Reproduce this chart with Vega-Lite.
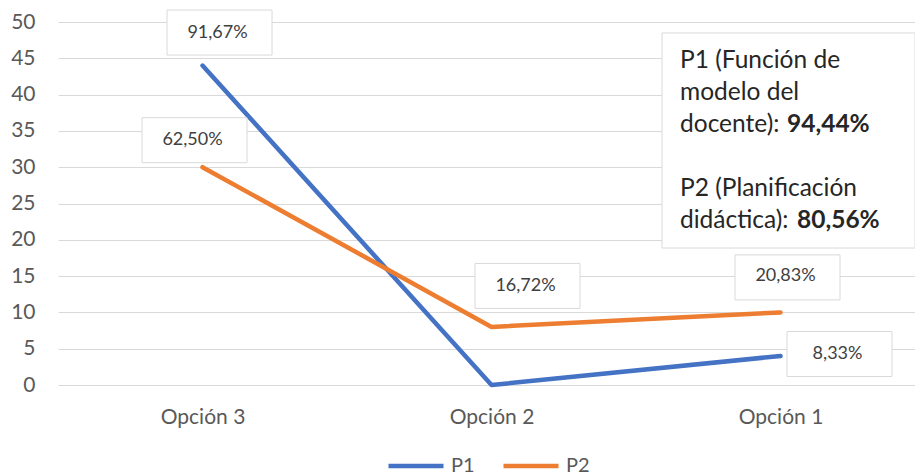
{
  "$schema": "https://vega.github.io/schema/vega-lite/v6.json",
  "width": 857,
  "height": 363,
  "autosize": {"type": "none"},
  "padding": {"left": 58, "top": 22, "right": 0, "bottom": 91},
  "background": "white",
  "config": {"view": {"stroke": null}, "font": "Lato"},
  "resolve": {"axis": {"x": "independent", "y": "independent"}},
  "data": {
    "values": [
      {"opcion": "Opción 3", "serie": "P1", "valor": 44, "etiqueta": "91,67%"},
      {"opcion": "Opción 2", "serie": "P1", "valor": 0, "etiqueta": ""},
      {"opcion": "Opción 1", "serie": "P1", "valor": 4, "etiqueta": "8,33%"},
      {"opcion": "Opción 3", "serie": "P2", "valor": 30, "etiqueta": "62,50%"},
      {"opcion": "Opción 2", "serie": "P2", "valor": 8, "etiqueta": "16,72%"},
      {"opcion": "Opción 1", "serie": "P2", "valor": 10, "etiqueta": "20,83%"}
    ]
  },
  "layer": [
    {
      "encoding": {
        "x": {
          "field": "opcion",
          "type": "ordinal",
          "sort": ["Opción 3", "Opción 2", "Opción 1"],
          "scale": {"type": "point", "padding": 0.4827, "align": 0.518},
          "axis": {"title": null, "ticks": false, "domain": false, "grid": false, "labelAngle": 0, "labelFontSize": 21, "labelColor": "#595959", "labelPadding": 21, "labelFont": "Lato"}
        },
        "y": {
          "field": "valor",
          "type": "quantitative",
          "scale": {"domain": [0, 50], "nice": false},
          "axis": {"title": null, "ticks": false, "domain": false, "values": [0, 5, 10, 15, 20, 25, 30, 35, 40, 45, 50], "gridColor": "#d9d9d9", "gridWidth": 1, "labelFontSize": 21, "labelColor": "#595959", "labelPadding": 23, "labelFont": "Lato"}
        }
      },
      "layer": [
        {
          "mark": {"type": "line", "strokeWidth": 4.5, "strokeCap": "round", "strokeJoin": "round"},
          "encoding": {
            "color": {
              "field": "serie",
              "type": "nominal",
              "scale": {"domain": ["P1", "P2"], "range": ["#4472C4", "#ED7D31"]},
              "legend": {"orient": "none", "legendX": 328, "legendY": 414, "direction": "horizontal", "title": null, "symbolType": "stroke", "symbolSize": 3025, "symbolStrokeWidth": 4.5, "labelFontSize": 20, "labelColor": "#595959", "labelFont": "Lato", "labelOffset": 5, "columnPadding": 19, "padding": 0}
            }
          }
        },
        {
          "transform": [{"filter": "datum.etiqueta == '91,67%'"}],
          "mark": {"type": "point", "shape": "M-1,-0.4286L1,-0.4286L1,0.4286L-1,0.4286Z", "size": 11025, "filled": true, "fill": "white", "stroke": "#d9d9d9", "strokeWidth": 1, "opacity": 1, "xOffset": 17, "yOffset": -33}
        },
        {
          "transform": [{"filter": "datum.etiqueta == '91,67%'"}],
          "mark": {"type": "text", "fontSize": 18, "color": "#404040", "xOffset": 15, "yOffset": -33},
          "encoding": {"text": {"field": "etiqueta"}}
        },
        {
          "transform": [{"filter": "datum.etiqueta == '62,50%'"}],
          "mark": {"type": "point", "shape": "M-1,-0.4286L1,-0.4286L1,0.4286L-1,0.4286Z", "size": 11025, "filled": true, "fill": "white", "stroke": "#d9d9d9", "strokeWidth": 1, "opacity": 1, "xOffset": -8, "yOffset": -27}
        },
        {
          "transform": [{"filter": "datum.etiqueta == '62,50%'"}],
          "mark": {"type": "text", "fontSize": 18, "color": "#404040", "xOffset": -10, "yOffset": -27},
          "encoding": {"text": {"field": "etiqueta"}}
        },
        {
          "transform": [{"filter": "datum.etiqueta == '16,72%'"}],
          "mark": {"type": "point", "shape": "M-1,-0.4286L1,-0.4286L1,0.4286L-1,0.4286Z", "size": 11025, "filled": true, "fill": "white", "stroke": "#d9d9d9", "strokeWidth": 1, "opacity": 1, "xOffset": 36, "yOffset": -41}
        },
        {
          "transform": [{"filter": "datum.etiqueta == '16,72%'"}],
          "mark": {"type": "text", "fontSize": 18, "color": "#404040", "xOffset": 34, "yOffset": -41},
          "encoding": {"text": {"field": "etiqueta"}}
        },
        {
          "transform": [{"filter": "datum.etiqueta == '20,83%'"}],
          "mark": {"type": "point", "shape": "M-1,-0.4286L1,-0.4286L1,0.4286L-1,0.4286Z", "size": 11025, "filled": true, "fill": "white", "stroke": "#d9d9d9", "strokeWidth": 1, "opacity": 1, "xOffset": 7, "yOffset": -35}
        },
        {
          "transform": [{"filter": "datum.etiqueta == '20,83%'"}],
          "mark": {"type": "text", "fontSize": 18, "color": "#404040", "xOffset": 5, "yOffset": -36},
          "encoding": {"text": {"field": "etiqueta"}}
        },
        {
          "transform": [{"filter": "datum.etiqueta == '8,33%'"}],
          "mark": {"type": "point", "shape": "M-1,-0.4286L1,-0.4286L1,0.4286L-1,0.4286Z", "size": 11025, "filled": true, "fill": "white", "stroke": "#d9d9d9", "strokeWidth": 1, "opacity": 1, "xOffset": 59, "yOffset": -2}
        },
        {
          "transform": [{"filter": "datum.etiqueta == '8,33%'"}],
          "mark": {"type": "text", "fontSize": 18, "color": "#404040", "xOffset": 57, "yOffset": -2},
          "encoding": {"text": {"field": "etiqueta"}}
        }
      ]
    },
    {
      "data": {"values": [{"nota": "caja"}]},
      "mark": {"type": "point", "shape": "M-1,-0.85L1,-0.85L1,0.85L-1,0.85Z", "size": 64009, "filled": true, "fill": "white", "stroke": "#d9d9d9", "strokeWidth": 1, "opacity": 1, "xOffset": 8, "yOffset": 118.5},
      "encoding": {"x": {"datum": "Opción 1", "type": "ordinal", "axis": null}, "y": {"datum": 50, "type": "quantitative", "axis": null}}
    },
    {
      "data": {"values": [{"nota": "P1 (Función de\nmodelo del\ndocente):"}]},
      "mark": {"type": "text", "fontSize": 24.5, "color": "#262626", "align": "left", "baseline": "alphabetic", "lineBreak": "\n", "lineHeight": 32, "xOffset": -100.5, "yOffset": 46},
      "encoding": {"x": {"datum": "Opción 1", "type": "ordinal", "axis": null}, "y": {"datum": 50, "type": "quantitative", "axis": null}, "text": {"field": "nota"}}
    },
    {
      "data": {"values": [{"nota": "P2 (Planificación\ndidáctica):"}]},
      "mark": {"type": "text", "fontSize": 24.5, "color": "#262626", "align": "left", "baseline": "alphabetic", "lineBreak": "\n", "lineHeight": 32, "xOffset": -100.5, "yOffset": 174},
      "encoding": {"x": {"datum": "Opción 1", "type": "ordinal", "axis": null}, "y": {"datum": 50, "type": "quantitative", "axis": null}, "text": {"field": "nota"}}
    },
    {
      "data": {"values": [{"nota": "94,44%"}]},
      "mark": {"type": "text", "fontSize": 24.5, "fontWeight": "bold", "color": "#262626", "align": "left", "baseline": "alphabetic", "xOffset": 6.5, "yOffset": 110},
      "encoding": {"x": {"datum": "Opción 1", "type": "ordinal", "axis": null}, "y": {"datum": 50, "type": "quantitative", "axis": null}, "text": {"field": "nota"}}
    },
    {
      "data": {"values": [{"nota": "80,56%"}]},
      "mark": {"type": "text", "fontSize": 24.5, "fontWeight": "bold", "color": "#262626", "align": "left", "baseline": "alphabetic", "xOffset": 16.5, "yOffset": 206},
      "encoding": {"x": {"datum": "Opción 1", "type": "ordinal", "axis": null}, "y": {"datum": 50, "type": "quantitative", "axis": null}, "text": {"field": "nota"}}
    }
  ]
}
